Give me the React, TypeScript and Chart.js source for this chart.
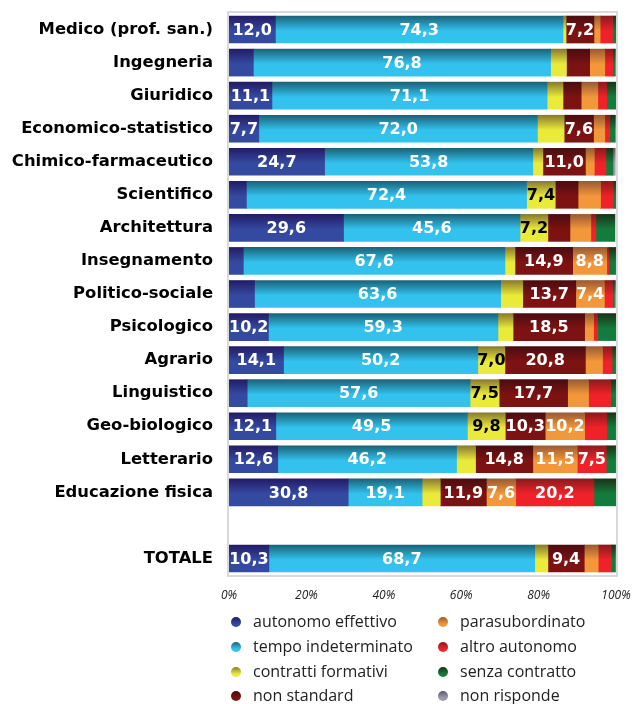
import React, { useEffect, useRef } from "react";
import { Chart, registerables } from "chart.js";

Chart.register(...registerables);

const categories = [
  "Medico (prof. san.)",
  "Ingegneria",
  "Giuridico",
  "Economico-statistico",
  "Chimico-farmaceutico",
  "Scientifico",
  "Architettura",
  "Insegnamento",
  "Politico-sociale",
  "Psicologico",
  "Agrario",
  "Linguistico",
  "Geo-biologico",
  "Letterario",
  "Educazione fisica",
  "",
  "TOTALE",
];

const autonomoEffettivo = [12.0, 6.3, 11.1, 7.7, 24.7, 4.5, 29.6, 3.7, 6.6, 10.2, 14.1, 4.7, 12.1, 12.6, 30.8, null, 10.3];
const tempoIndeterminato = [74.3, 76.8, 71.1, 72.0, 53.8, 72.4, 45.6, 67.6, 63.6, 59.3, 50.2, 57.6, 49.5, 46.2, 19.1, null, 68.7];
const contrattiFormativi = [0.8, 4.1, 4.1, 6.9, 2.6, 7.4, 7.2, 2.6, 5.7, 3.9, 7.0, 7.5, 9.8, 4.9, 4.7, null, 3.4];
const nonStandard = [7.2, 6.0, 4.7, 7.6, 11.0, 5.9, 5.7, 14.9, 13.7, 18.5, 20.8, 17.7, 10.3, 14.8, 11.9, null, 9.4];
const parasubordinato = [1.6, 3.9, 4.3, 2.9, 2.3, 5.8, 5.4, 8.8, 7.4, 2.3, 4.4, 5.4, 10.2, 11.5, 7.6, null, 3.6];
const altroAutonomo = [3.2, 2.1, 2.3, 1.3, 3.0, 3.3, 1.3, 0.5, 2.1, 1.0, 2.5, 5.7, 5.7, 7.5, 20.2, null, 3.4];
const senzaContratto = [0.9, 0.6, 2.4, 1.3, 1.8, 0.6, 4.9, 1.8, 0.5, 4.8, 0.9, 1.3, 2.3, 2.4, 5.7, null, 1.0];
const nonRisponde = [0, 0, 0, 0.3, 0.6, 0, 0, 0, 0.4, 0, 0, 0, 0, 0, 0, null, 0.2];

const tickValues = [0, 20, 40, 60, 80, 100];

const seriesNames = [
  "autonomo effettivo",
  "tempo indeterminato",
  "contratti formativi",
  "non standard",
  "parasubordinato",
  "altro autonomo",
  "senza contratto",
  "non risponde",
];
const seriesData = [
  autonomoEffettivo,
  tempoIndeterminato,
  contrattiFormativi,
  nonStandard,
  parasubordinato,
  altroAutonomo,
  senzaContratto,
  nonRisponde,
];
const topColors = ["#231c66", "#1a6378", "#8a7a2e", "#4a0d10", "#9a5a32", "#8c1a1c", "#1a3318", "#5a5a6a"];
const bottomColors = ["#3449a0", "#33c1ee", "#eaea3a", "#7d1212", "#f2973a", "#ee2228", "#137c3c", "#9a9aa8"];

const BAR_H = 27;
const LABEL_FONT = "bold 16px 'DejaVu Sans'";

const zeroPad = (s: any) => {
  s.paddingTop = 0;
  s.paddingBottom = 0;
  s.paddingLeft = 0;
  s.paddingRight = 0;
};

const framePlugin = {
  id: "frame",
  beforeDatasetsDraw(chart: any) {
    const { ctx, chartArea } = chart;
    ctx.save();
    ctx.strokeStyle = "#d9d9d9";
    ctx.lineWidth = 2;
    ctx.strokeRect(chartArea.left - 1, chartArea.top - 1, chartArea.right - chartArea.left + 2, chartArea.bottom - chartArea.top + 2);
    ctx.restore();
  },
};

const labelPlugin = {
  id: "barLabels",
  afterDatasetsDraw(chart: any) {
    const { ctx } = chart;
    ctx.save();
    ctx.font = LABEL_FONT;
    ctx.textAlign = "center";
    ctx.textBaseline = "middle";
    chart.data.datasets.forEach((ds: any, di: number) => {
      const meta = chart.getDatasetMeta(di);
      meta.data.forEach((el: any, i: number) => {
        const v = ds.data[i];
        if (v == null || v < 7) return;
        const p = el.getCenterPoint();
        ctx.fillStyle = di === 2 ? "#000000" : "#ffffff";
        ctx.fillText(v.toFixed(1).replace(".", ","), p.x, p.y + 1);
      });
    });
    ctx.restore();
  },
};

const legendPlugin = {
  id: "customLegend",
  afterDraw(chart: any) {
    const { ctx } = chart;
    const colX = [236, 443];
    const textX = [253, 460];
    const rowY = [622, 647, 672, 696];
    ctx.save();
    ctx.font = "16px 'Open Sans'";
    ctx.textBaseline = "middle";
    ctx.textAlign = "left";
    seriesNames.forEach((name, i) => {
      const c = Math.floor(i / 4);
      const r = i % 4;
      const x = colX[c];
      const y = rowY[r];
      const g = ctx.createLinearGradient(0, y - 5, 0, y + 5);
      g.addColorStop(0, topColors[i]);
      g.addColorStop(0.7, bottomColors[i]);
      g.addColorStop(1, bottomColors[i]);
      ctx.fillStyle = g;
      ctx.beginPath();
      ctx.arc(x, y, 5, 0, Math.PI * 2);
      ctx.fill();
      ctx.fillStyle = "#222222";
      ctx.fillText(name, textX[c], y);
    });
    ctx.restore();
  },
};

export default function App() {
  const ref = useRef<HTMLCanvasElement | null>(null);

  useEffect(() => {
    if (!ref.current) return;
    const datasets = seriesNames.map((name, i) => ({
      label: name,
      data: seriesData[i],
      barThickness: BAR_H,
      borderWidth: 0,
      backgroundColor: (c: any) => {
        const chart = c.chart;
        if (!chart.chartArea || c.type !== "data" || !chart.scales.y) return bottomColors[i];
        const y = chart.scales.y.getPixelForValue(c.dataIndex);
        const g = chart.ctx.createLinearGradient(0, y - BAR_H / 2, 0, y + BAR_H / 2);
        g.addColorStop(0, topColors[i]);
        g.addColorStop(0.55, bottomColors[i]);
        g.addColorStop(1, bottomColors[i]);
        return g;
      },
    }));

    const chart = new Chart(ref.current, {
      type: "bar",
      data: { labels: categories, datasets },
      options: {
        indexAxis: "y",
        animation: false,
        responsive: false,
        maintainAspectRatio: false,
        layout: { padding: { left: 0, top: 13, right: 17, bottom: 99 } },
        plugins: { legend: { display: false }, tooltip: { enabled: false } },
        scales: {
          x: {
            stacked: true,
            min: 0,
            max: 100,
            grid: { display: false, drawTicks: false },
            border: { display: false },
            afterFit: (s: any) => {
              s.height = 30;
              zeroPad(s);
            },
            afterBuildTicks: (s: any) => {
              s.ticks = tickValues.map((v) => ({ value: v }));
            },
            ticks: {
              padding: 13,
              color: "#222222",
              font: { family: "'Open Sans'", size: 12, style: "italic" },
              callback: (v: any) => v + "%",
            },
          },
          y: {
            stacked: true,
            grid: { display: false, drawTicks: false },
            border: { display: false },
            afterFit: (s: any) => {
              s.width = 229;
              zeroPad(s);
            },
            ticks: {
              padding: 16,
              color: "#000000",
              font: { family: "'DejaVu Sans'", size: 16.4, weight: "bold" },
              autoSkip: false,
            },
          },
        },
      },
      plugins: [framePlugin, labelPlugin, legendPlugin],
    });
    return () => chart.destroy();
  }, []);

  return (
    <div style={{ position: "absolute", left: 0, top: 0, width: 633, height: 704, background: "#ffffff" }}>
      <canvas ref={ref} width={633} height={704} style={{ display: "block", width: 633, height: 704 }} />
    </div>
  );
}
